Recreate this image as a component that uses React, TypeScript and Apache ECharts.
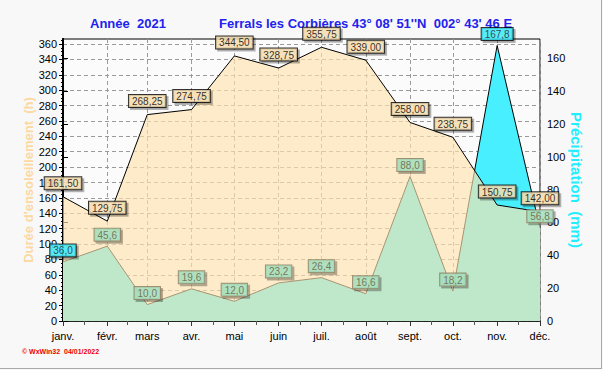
import React, { useEffect, useRef } from 'react';
import * as echarts from 'echarts';

const months = ['janv.', 'févr.', 'mars', 'avr.', 'mai', 'juin', 'juil.', 'août', 'sept.', 'oct.', 'nov.', 'déc.'];
const monthStartDay = [0, 31, 59, 90, 120, 151, 181, 212, 243, 273, 304, 334];
const midMonthDay = [15, 45, 74, 105, 135, 166, 196, 227, 258, 288, 319];
const sunshineHours = [161.5, 129.75, 268.25, 274.75, 344.5, 328.75, 355.75, 339.0, 258.0, 238.75, 150.75, 142.0];
const precipitationMm = [36.0, 45.6, 10.0, 19.6, 12.0, 23.2, 26.4, 16.6, 88.0, 18.2, 167.8, 56.8];
const sunshineTicks = [0, 20, 40, 60, 80, 100, 120, 140, 160, 180, 200, 220, 240, 260, 280, 300, 320, 340, 360];
const precipTicks = [0, 20, 40, 60, 80, 100, 120, 140, 160];
const cyanLabelMonths = [0, 10];

const FONT = '"Liberation Sans", Arial, sans-serif';

export default function App() {
  const ref = useRef<HTMLDivElement>(null);
  useEffect(() => {
    if (!ref.current) return;
    const chart = echarts.init(ref.current, undefined, { renderer: 'svg' });
    const sunPts = sunshineHours.map((v, i) => [monthStartDay[i], v]);
    const rainPts = precipitationMm.map((v, i) => [monthStartDay[i], v]);

    const sunLabel = {
      show: true,
      position: 'top',
      distance: 7,
      fontFamily: FONT,
      fontSize: 10,
      color: '#000',
      backgroundColor: '#fde3b4',
      borderColor: '#000',
      borderWidth: 1,
      padding: [1, 3, 0, 3],
      lineHeight: 11,
      shadowColor: 'rgba(0,0,0,0.35)',
      shadowOffsetX: 2,
      shadowOffsetY: 2,
      shadowBlur: 1,
      formatter: (p: any) => p.value[1].toFixed(2).replace('.', ','),
    };
    const greenLabel = {
      backgroundColor: '#a8e6c4',
      borderColor: '#8a7a5c',
      color: '#6a5a3c',
    };
    const cyanLabel = {
      backgroundColor: '#40f0ff',
      borderColor: '#000',
      color: '#222',
    };

    chart.setOption({
      animation: false,
      backgroundColor: '#f8f8f8',
      grid: {
        left: 63,
        top: 39,
        width: 477,
        height: 282,
        show: true,
        backgroundColor: '#fbfbfb',
        borderColor: '#000',
        borderWidth: 1,
      },
      xAxis: [
        {
          type: 'value',
          min: 0,
          max: 334,
          axisLine: { show: true, lineStyle: { color: '#000', width: 1.5 } },
          axisTick: { show: true, customValues: monthStartDay, length: 5, lineStyle: { color: '#333' } },
          axisLabel: {
            customValues: monthStartDay,
            formatter: (v: number) => months[monthStartDay.indexOf(v)] ?? '',
            fontFamily: FONT,
            fontSize: 11,
            color: '#000',
            margin: 9,
          },
          splitLine: { show: true, lineStyle: { color: '#9a9a9a', type: [4, 3], width: 1 } },
        },
        {
          type: 'value',
          min: 0,
          max: 334,
          position: 'bottom',
          axisLine: { show: false },
          axisTick: { show: true, customValues: midMonthDay, length: 4, lineStyle: { color: '#555' } },
          axisLabel: { show: false },
          splitLine: { show: false },
        },
      ],
      yAxis: [
        {
          type: 'value',
          min: 0,
          max: 366.5,
          interval: 20,
          name: "Durée d'ensoleillement  (h)",
          nameLocation: 'middle',
          nameRotate: 90,
          nameGap: 28,
          nameMoveOverlap: false,
          nameTextStyle: { color: '#fcd9a0', fontFamily: FONT, fontSize: 13, fontWeight: 'bold' },
          axisLine: { show: true, lineStyle: { color: '#000', width: 2 } },
          axisTick: { show: true, customValues: sunshineTicks, length: 4, lineStyle: { color: '#000' } },
          minorTick: { show: true, splitNumber: 4, length: 2, lineStyle: { color: '#000' } },
          axisLabel: {
            customValues: sunshineTicks,
            fontFamily: FONT,
            fontSize: 11,
            color: '#000',
            margin: 6,
          },
          splitLine: { show: true, lineStyle: { color: '#9a9a9a', type: [4, 3], width: 1 } },
        },
        {
          type: 'value',
          min: 0,
          max: 171.75,
          interval: 20,
          position: 'right',
          name: 'Précipitation  (mm)',
          nameLocation: 'middle',
          nameRotate: -90,
          nameGap: 29,
          nameMoveOverlap: false,
          nameTextStyle: { color: '#22eeff', fontFamily: FONT, fontSize: 15, fontWeight: 'bold' },
          axisLine: { show: true, lineStyle: { color: '#000', width: 2 } },
          axisTick: { show: true, customValues: precipTicks, length: 5, lineStyle: { color: '#000' } },
          axisLabel: {
            customValues: precipTicks,
            fontFamily: FONT,
            fontSize: 11,
            color: '#000',
            margin: 7,
          },
          splitLine: { show: false },
        },
      ],
      series: [
        {
          type: 'line',
          name: 'precip-area',
          yAxisIndex: 1,
          data: rainPts,
          showSymbol: false,
          lineStyle: { color: '#000', width: 1 },
          areaStyle: { color: '#48f0ff', opacity: 1 },
          z: 1,
        },
        {
          type: 'line',
          name: 'sun-area',
          yAxisIndex: 0,
          data: sunPts,
          showSymbol: false,
          lineStyle: { color: '#000', width: 1 },
          areaStyle: { color: 'rgba(254,226,174,0.66)', opacity: 1 },
          z: 2,
        },
        {
          type: 'scatter',
          yAxisIndex: 0,
          data: sunPts,
          symbolSize: 1,
          itemStyle: { color: 'rgba(0,0,0,0)' },
          label: sunLabel,
          z: 5,
        },
        {
          type: 'scatter',
          yAxisIndex: 1,
          data: rainPts.map((p, i) => ({
            value: p,
            label: cyanLabelMonths.includes(i) ? cyanLabel : greenLabel,
          })),
          symbolSize: 1,
          itemStyle: { color: 'rgba(0,0,0,0)' },
          label: {
            ...sunLabel,
            distance: 5,
            formatter: (p: any) => p.value[1].toFixed(1).replace('.', ','),
          },
          z: 5,
        },
      ],
      graphic: [
        {
          type: 'text',
          left: 90,
          top: 17,
          z: 0,
          style: { text: 'Année  2021', font: `bold 13px ${FONT}`, fill: '#2222ee' },
        },
        {
          type: 'text',
          left: 219,
          top: 17,
          z: 0,
          style: { text: "Ferrals les Corbières 43° 08' 51''N  002° 43' 46 E", font: `bold 13px ${FONT}`, fill: '#2222ee' },
        },
        {
          type: 'text',
          left: 22,
          top: 348,
          style: { text: '© WxWin32  04/01/2022', font: `bold 7px ${FONT}`, fill: '#ee0000' },
        },
        { type: 'line', shape: { x1: 601.5, y1: 0, x2: 601.5, y2: 369 }, style: { stroke: '#a8a8a8', lineWidth: 1 } },
        { type: 'line', shape: { x1: 0, y1: 368.5, x2: 602, y2: 368.5 }, style: { stroke: '#a8a8a8', lineWidth: 1 } },
      ],
    });
    return () => chart.dispose();
  }, []);
  return <div ref={ref} style={{ position: 'fixed', left: 0, top: 0, width: 603, height: 370 }} />;
}
